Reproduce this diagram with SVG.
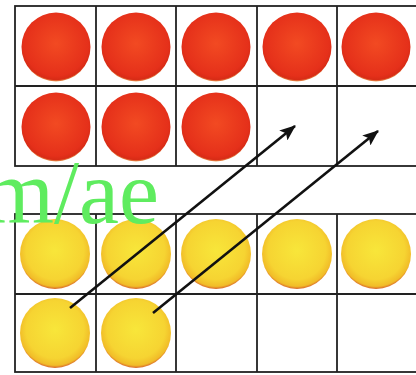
<svg xmlns="http://www.w3.org/2000/svg" width="416" height="375" viewBox="0 0 416 375">
<defs>
<radialGradient id="red" cx="0.5" cy="0.45" r="0.55">
<stop offset="0" stop-color="#f24a22"/>
<stop offset="0.85" stop-color="#e5301a"/>
<stop offset="0.95" stop-color="#d82c16"/>
<stop offset="1" stop-color="#eaa458"/>
</radialGradient>
<radialGradient id="yel" cx="0.5" cy="0.45" r="0.55">
<stop offset="0" stop-color="#f8e63a"/>
<stop offset="0.75" stop-color="#f6d432"/>
<stop offset="0.93" stop-color="#f1bc28"/>
<stop offset="1" stop-color="#d8642a"/>
</radialGradient>
<marker id="ah" viewBox="0 0 16 13" refX="15" refY="6.5" markerWidth="16" markerHeight="13" markerUnits="userSpaceOnUse" orient="auto">
<path d="M0,0 L16,6.5 L0,13 L3.5,6.5 Z" fill="#111"/>
</marker>
<style>
.grid{fill:#fff;stroke:#222;stroke-width:1.8}
.r{fill:url(#red)}
.y{fill:url(#yel)}
.arr{stroke:#111;stroke-width:2.6;fill:none;marker-end:url(#ah)}
.wm{font-family:"Liberation Serif","Times New Roman",serif;font-size:90px;fill:#5fec5f}
</style>
</defs>
<rect width="416" height="375" fill="#fff"/>
<g id="top-frame">
<rect class="grid" x="15" y="6" width="402" height="160"/>
<path class="grid" d="M96,6V166M176,6V166M257,6V166M337,6V166M15,86H417"/>
<circle class="r" cx="56" cy="47" r="34.5"/>
<circle class="r" cx="136" cy="47" r="34.5"/>
<circle class="r" cx="216" cy="47" r="34.5"/>
<circle class="r" cx="297" cy="47" r="34.5"/>
<circle class="r" cx="376" cy="47" r="34.5"/>
<circle class="r" cx="56" cy="127" r="34.5"/>
<circle class="r" cx="136" cy="127" r="34.5"/>
<circle class="r" cx="216" cy="127" r="34.5"/>
</g>
<g id="bottom-frame">
<rect class="grid" x="15" y="214" width="402" height="158"/>
<path class="grid" d="M96,214V372M176,214V372M257,214V372M337,214V372M15,294H417"/>
<circle class="y" cx="55" cy="254" r="35"/>
<circle class="y" cx="136" cy="254" r="35"/>
<circle class="y" cx="216" cy="254" r="35"/>
<circle class="y" cx="297" cy="254" r="35"/>
<circle class="y" cx="376" cy="254" r="35"/>
<circle class="y" cx="55" cy="333" r="35"/>
<circle class="y" cx="136" cy="333" r="35"/>
</g>
<g id="connectors">
<line class="arr" x1="70" y1="308" x2="295" y2="126"/>
<line class="arr" x1="153" y1="313" x2="378" y2="131"/>
</g>
<text class="wm" x="159" y="223" text-anchor="end">m/ae</text>
</svg>
